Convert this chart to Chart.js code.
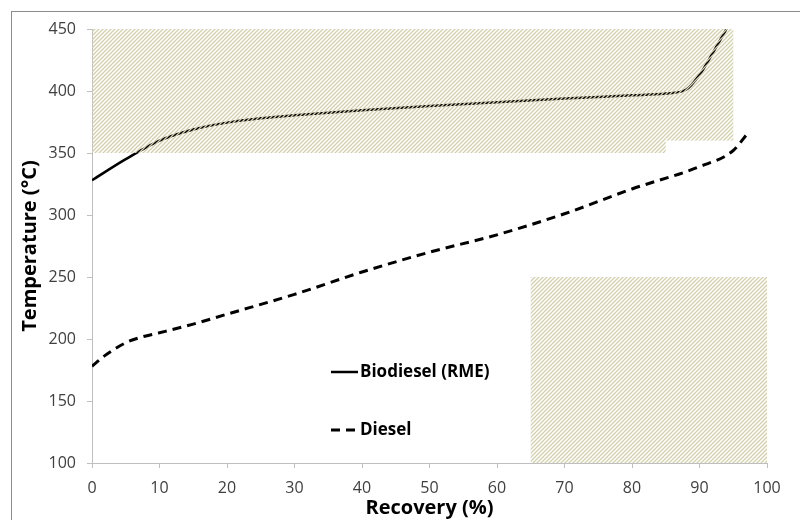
<!DOCTYPE html>
<html lang="en">
<head>
  <meta charset="UTF-8" />
  <title>Distillation curves</title>
  <script src="https://cdn.jsdelivr.net/npm/chart.js"></script>
  <style>
    html, body { margin: 0; padding: 0; background: #fff; }
    #wrap { width: 800px; height: 520px; position: relative; }
  </style>
</head>
<body>
  <div id="wrap"><canvas id="chart" width="800" height="520"></canvas></div>

  <script>
    // Biodiesel (RME) distillation curve
    const bioRecovery = [0, 5, 10, 15, 20, 25, 30, 40, 50, 60, 70, 80, 85, 88, 90, 92, 94];
    const bioTemp     = [328, 345, 360, 369, 374.5, 378, 380.5, 384.5, 388, 391, 394, 396.5, 398, 401, 413, 431, 450];

    // Diesel distillation curve
    const dieselRecovery = [0, 2, 5, 7, 10, 15, 20, 30, 40, 50, 60, 70, 80, 90, 95, 97];
    const dieselTemp     = [178, 187, 197, 201, 205, 212, 220, 236, 254, 270, 284, 301, 321, 339, 352, 365];

    // hatched spec boxes (recovery %, temperature °C)
    const hatchXMin = [0, 85, 65];
    const hatchXMax = [85, 95, 100];
    const hatchYMin = [350, 360, 100];
    const hatchYMax = [450, 450, 250];

    const xTicks = [0, 10, 20, 30, 40, 50, 60, 70, 80, 90, 100];
    const yTicks = [100, 150, 200, 250, 300, 350, 400, 450];

    const FONT = "'Open Sans', 'DejaVu Sans', sans-serif";
    const AXIS = "#bfbfbf";

    function makeHatch(ctx) {
      const c = document.createElement("canvas");
      c.width = 4; c.height = 4;
      const g = c.getContext("2d");
      g.strokeStyle = "#d3cfad";
      g.lineWidth = 1.3;
      g.beginPath();
      g.moveTo(-1, 5); g.lineTo(5, -1);
      g.moveTo(-3, 3); g.lineTo(3, -3);
      g.moveTo(1, 7); g.lineTo(7, 1);
      g.stroke();
      return ctx.createPattern(c, "repeat");
    }

    const hatchPlugin = {
      id: "hatch",
      afterDatasetsDraw(chart) {
        const { ctx, chartArea, scales } = chart;
        const pat = makeHatch(ctx);
        ctx.save();
        ctx.beginPath();
        ctx.rect(chartArea.left, chartArea.top - 1, chartArea.right - chartArea.left + 1, chartArea.bottom - chartArea.top + 1);
        ctx.clip();
        ctx.fillStyle = pat;
        for (let i = 0; i < hatchXMin.length; i++) {
          const x0 = scales.x.getPixelForValue(hatchXMin[i]);
          const x1 = scales.x.getPixelForValue(hatchXMax[i]);
          const y0 = scales.y.getPixelForValue(hatchYMax[i]);
          const y1 = scales.y.getPixelForValue(hatchYMin[i]);
          ctx.fillRect(x0, y0, x1 - x0, y1 - y0);
        }
        ctx.restore();
      }
    };

    const framePlugin = {
      id: "frame",
      beforeDraw(chart) {
        const ctx = chart.ctx;
        ctx.save();
        ctx.fillStyle = "#fff";
        ctx.fillRect(0, 0, chart.width, chart.height);
        ctx.strokeStyle = "#8c8c8c";
        ctx.lineWidth = 1;
        ctx.strokeRect(11.5, 11.5, chart.width + 10, chart.height + 10);
        ctx.restore();
      }
    };

    // legend drawn inside the plot area, like the original
    const innerLegend = {
      id: "innerLegend",
      afterDraw(chart) {
        const ctx = chart.ctx;
        const a = chart.chartArea;
        const x = a.left + 239;
        const rows = [a.top + 343, a.top + 401];
        ctx.save();
        chart.data.datasets.forEach((ds, i) => {
          const y = rows[i];
          ctx.strokeStyle = ds.borderColor;
          ctx.lineWidth = ds.borderWidth;
          ctx.setLineDash(ds.borderDash || []);
          ctx.beginPath();
          ctx.moveTo(x, y);
          ctx.lineTo(x + 27, y);
          ctx.stroke();
          ctx.setLineDash([]);
          ctx.fillStyle = "#000";
          ctx.font = "bold 17px " + FONT;
          ctx.textBaseline = "middle";
          ctx.fillText(ds.label, x + 29, y);
        });
        ctx.restore();
      }
    };

    new Chart(document.getElementById("chart"), {
      type: "line",
      data: {
        datasets: [
          {
            label: "Biodiesel (RME)",
            data: bioRecovery.map((r, i) => ({ x: r, y: bioTemp[i] })),
            borderColor: "#000",
            borderWidth: 2.5,
            pointRadius: 0,
            cubicInterpolationMode: "monotone",
            fill: false
          },
          {
            label: "Diesel",
            data: dieselRecovery.map((r, i) => ({ x: r, y: dieselTemp[i] })),
            borderColor: "#000",
            borderWidth: 3,
            borderDash: [9, 6],
            pointRadius: 0,
            cubicInterpolationMode: "monotone",
            fill: false
          }
        ]
      },
      options: {
        responsive: false,
        animation: false,
        layout: { padding: { left: 12, top: 29, right: 33, bottom: 0 } },
        plugins: { legend: { display: false }, tooltip: { enabled: false } },
        scales: {
          x: {
            type: "linear",
            min: 0,
            max: 100,
            afterBuildTicks(s) { s.ticks = xTicks.map(v => ({ value: v })); },
            afterFit(s) { s.height = 57; },
            grid: { drawOnChartArea: false, drawTicks: true, tickLength: 5, color: AXIS },
            border: { color: AXIS },
            ticks: { color: "#404040", font: { family: FONT, size: 16 }, padding: 11, maxRotation: 0 },
            title: { display: true, text: "Recovery (%)", color: "#000", font: { family: FONT, size: 20, weight: "bold" }, padding: { top: 0, bottom: 0 } }
          },
          y: {
            min: 100,
            max: 450,
            afterBuildTicks(s) { s.ticks = yTicks.map(v => ({ value: v })); },
            afterFit(s) { s.width = 80; },
            grid: { drawOnChartArea: false, drawTicks: true, tickLength: 5, color: AXIS },
            border: { color: AXIS },
            ticks: { color: "#404040", font: { family: FONT, size: 16 }, padding: 11 },
            title: { display: true, text: "Temperature (°C)", color: "#000", font: { family: FONT, size: 20, weight: "bold" }, padding: { top: 6, bottom: 0 } }
          }
        }
      },
      plugins: [framePlugin, hatchPlugin, innerLegend]
    });
  </script>
</body>
</html>
